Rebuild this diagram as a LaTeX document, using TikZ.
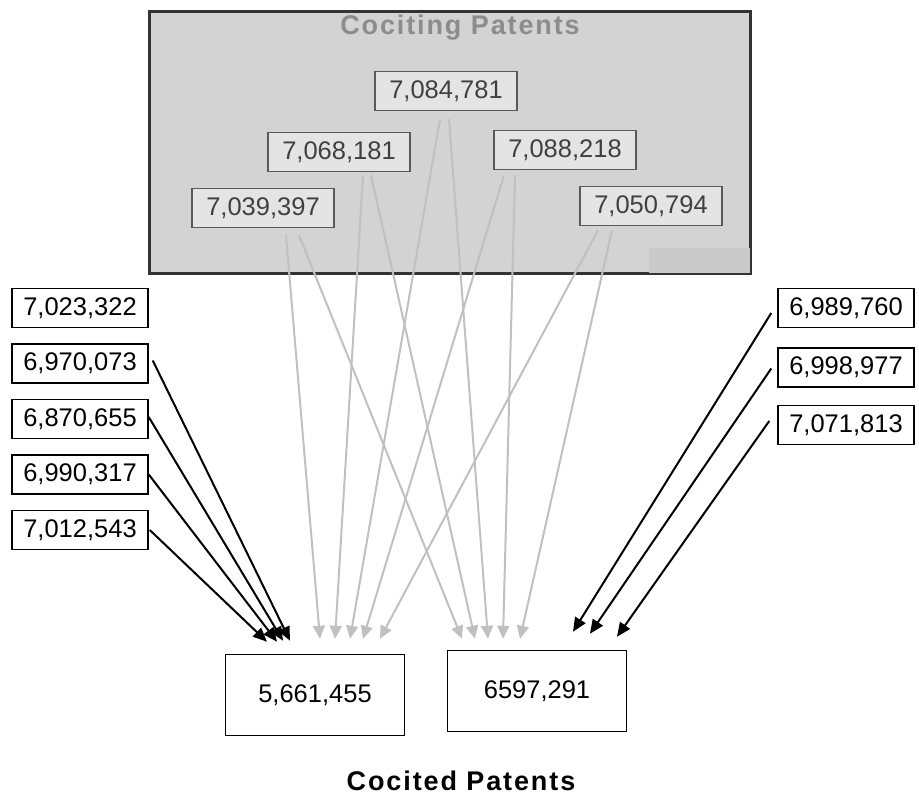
\documentclass[tikz,border=0pt]{standalone}
\usepackage{fontspec}
\setmainfont{Liberation Sans}
\newfontfamily\headfont[LetterSpace=7]{Liberation Sans}
\usepackage{xcolor}
\usetikzlibrary{arrows.meta, positioning}

\definecolor{panelgray}{HTML}{D3D3D3}
\definecolor{patchgray}{HTML}{CACACA}
\definecolor{boxgray}{HTML}{E4E4E4}
\definecolor{linegray}{HTML}{C0C0C0}
\definecolor{titlegray}{HTML}{8C8C8C}

\begin{document}
\begin{tikzpicture}[
    x=1pt, y=-1pt,
    node distance=15pt and 0pt,
    panel/.style={rectangle, draw=black!80, line width=2pt, fill=panelgray, minimum width=600pt, minimum height=261pt},
    citing/.style={rectangle, draw=black!65, line width=1.5pt, fill=boxgray, text=black!75, inner sep=0pt, minimum width=142pt, minimum height=39pt, font=\fontsize{25.5}{30}\selectfont},
    patent/.style={rectangle, draw=black, line width=1.5pt, fill=white, inner sep=0pt, minimum width=136pt, minimum height=39pt, font=\fontsize{25.5}{30}\selectfont},
    cited/.style={patent, minimum width=179pt, minimum height=81pt},
    heading/.style={inner sep=0pt, font=\headfont\bfseries\fontsize{27}{32}\selectfont},
    blackarrow/.style={-{Triangle[length=14pt, width=12pt]}, line width=2pt, black},
    grayarrow/.style={-{Triangle[length=13pt, width=12pt]}, line width=2pt, linegray}
]
    \useasboundingbox (0,0) rectangle (919,795);

    % Cociting panel
    \node[panel] (panel) at (450,142.5) {};
    \fill[patchgray] (649,248) rectangle ([xshift=-1pt, yshift=1pt]panel.south east);
    \draw[black!80, line width=2pt] (panel.north west) rectangle (panel.south east);
    \node[heading, text=titlegray] (citingtitle) at (460,28) {Cociting Patents};

    \node[citing] (p7084781) at (446,91) {7,084,781};
    \node[citing] (p7068181) at (339,152) {7,068,181};
    \node[citing] (p7088218) at (565,150) {7,088,218};
    \node[citing] (p7039397) at (263,208) {7,039,397};
    \node[citing] (p7050794) at (651,206) {7,050,794};

    % Left column
    \node[patent] (p7023322) at (80,308) {7,023,322};
    \node[patent, below=of p7023322] (p6970073) {6,970,073};
    \node[patent, below=of p6970073] (p6870655) {6,870,655};
    \node[patent, below=of p6870655] (p6990317) {6,990,317};
    \node[patent, below=of p6990317] (p7012543) {7,012,543};

    % Right column
    \node[patent] (p6989760) at (846,308) {6,989,760};
    \node[patent, below=19pt of p6989760] (p6998977) {6,998,977};
    \node[patent, below=17pt of p6998977] (p7071813) {7,071,813};

    % Cocited patents
    \node[cited] (p5661455) at (315,695) {5,661,455};
    \node[cited] (p6597291) at (537,691) {6597,291};
    \node[heading] (citedtitle) at (461,781) {Cocited Patents};

    % Grey arrows from the cociting panel
    \draw[grayarrow] ([xshift=23pt, yshift=-7pt]p7039397.south) -- ([xshift=5pt, yshift=15pt]p5661455.north);
    \draw[grayarrow] ([xshift=36pt, yshift=-7pt]p7039397.south) -- ([xshift=-75pt, yshift=11pt]p6597291.north);
    \draw[grayarrow] ([xshift=24pt, yshift=-3pt]p7068181.south) -- ([xshift=20pt, yshift=15pt]p5661455.north);
    \draw[grayarrow] ([xshift=32pt, yshift=-3pt]p7068181.south) -- ([xshift=-62pt, yshift=11pt]p6597291.north);
    \draw[grayarrow] ([xshift=-6pt, yshift=-8pt]p7084781.south) -- ([xshift=35pt, yshift=15pt]p5661455.north);
    \draw[grayarrow] ([xshift=3pt, yshift=-8pt]p7084781.south) -- ([xshift=-49pt, yshift=11pt]p6597291.north);
    \draw[grayarrow] ([xshift=-61pt, yshift=-5pt]p7088218.south) -- ([xshift=48pt, yshift=15pt]p5661455.north);
    \draw[grayarrow] ([xshift=-50pt, yshift=-5pt]p7088218.south) -- ([xshift=-34pt, yshift=11pt]p6597291.north);
    \draw[grayarrow] ([xshift=-53pt, yshift=-4pt]p7050794.south) -- ([xshift=65pt, yshift=15pt]p5661455.north);
    \draw[grayarrow] ([xshift=-39pt, yshift=-4pt]p7050794.south) -- ([xshift=-17pt, yshift=11pt]p6597291.north);

    % Black arrows from the side columns
    \draw[blackarrow] ([xshift=4pt, yshift=3pt]p6970073.east) -- ([xshift=-25pt, yshift=13pt]p5661455.north);
    \draw[blackarrow] ([yshift=2pt]p6870655.east) -- ([xshift=-32pt, yshift=13pt]p5661455.north);
    \draw[blackarrow] (p6990317.east) -- ([xshift=-38pt, yshift=12pt]p5661455.north);
    \draw[blackarrow] ([xshift=1pt]p7012543.east) -- ([xshift=-48pt, yshift=12pt]p5661455.north);

    \draw[blackarrow] ([xshift=-6pt, yshift=-5pt]p6989760.west) -- ([xshift=36pt, yshift=18pt]p6597291.north);
    \draw[blackarrow] ([xshift=-6pt, yshift=-1pt]p6998977.west) -- ([xshift=53pt, yshift=16pt]p6597291.north);
    \draw[blackarrow] ([xshift=-8pt, yshift=4pt]p7071813.west) -- ([xshift=80pt, yshift=13pt]p6597291.north);

\end{tikzpicture}
\end{document}
